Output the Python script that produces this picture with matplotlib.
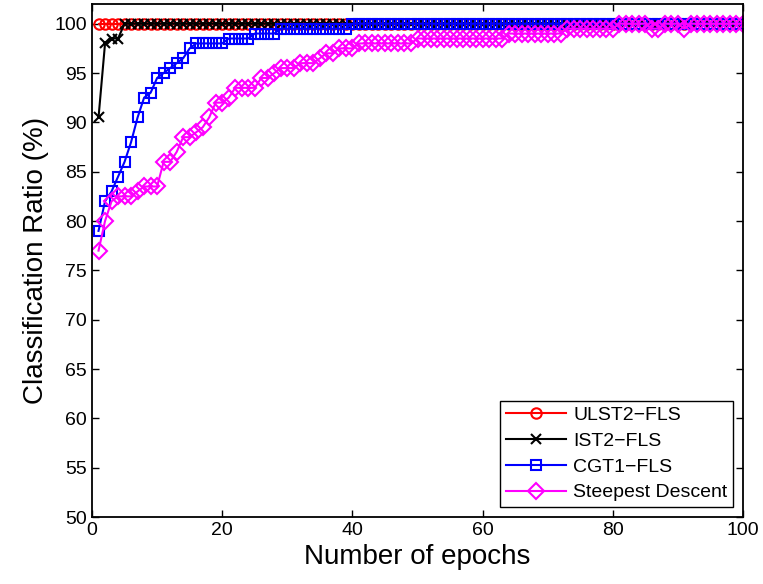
import matplotlib
matplotlib.use("Agg")
import matplotlib.pyplot as plt
import numpy as np

plt.rcParams['font.family'] = ['Liberation Sans', 'DejaVu Sans']

epochs = list(range(1, 101))

# ULST2-FLS: 100 % from the first epoch
ulst2 = [100.0] * 100

# IST2-FLS
ist2 = [90.5, 98.0, 98.5, 98.5] + [100.0] * 96

# CGT1-FLS
cgt1 = [79, 82, 83, 84.5, 86, 88, 90.5, 92.5, 93, 94.5,
        95, 95.5, 96, 96.5, 97.5, 98, 98, 98, 98, 98,
        98.5, 98.5, 98.5, 98.5, 99, 99, 99, 99, 99.5, 99.5,
        99.5, 99.5, 99.5, 99.5, 99.5, 99.5, 99.5, 99.5, 99.5] + [100] * 61

# Steepest Descent
steep = [77, 80, 82, 82.5, 82.5, 82.5, 83, 83.5, 83.5, 83.5,
         86, 86, 87, 88.5, 88.5, 89, 89.5, 90.5, 92, 92,
         92.5, 93.5, 93.5, 93.5, 93.5, 94.5, 94.5, 95, 95.5, 95.5,
         95.5, 96, 96, 96, 96.5, 97, 97, 97.5, 97.5, 97.5,
         98, 98, 98, 98, 98, 98, 98, 98, 98, 98.5,
         98.5, 98.5, 98.5, 98.5, 98.5, 98.5, 98.5, 98.5, 98.5, 98.5,
         98.5, 98.5, 98.5, 99, 99, 99, 99, 99, 99, 99,
         99, 99, 99.5, 99.5, 99.5, 99.5, 99.5, 99.5, 99.5, 99.5,
         100, 100, 100, 100, 100, 99.5, 99.5, 100, 100, 100,
         99.5, 100, 100, 100, 100, 100, 100, 100, 100, 100]

names = ['ULST2\u2212FLS', 'IST2\u2212FLS', 'CGT1\u2212FLS', 'Steepest Descent']

fig = plt.figure(figsize=(7.63, 5.84), dpi=100)
ax = fig.add_axes([0.1206, 0.1147, 0.8532, 0.8785])

ax.plot(epochs, ulst2, '-o', color='r', lw=1.5, ms=7.5, mfc='none', mew=1.5, label=names[0])
ax.plot(epochs, ist2, '-x', color='k', lw=1.5, ms=7, mew=1.5, label=names[1])
ax.plot(epochs, cgt1, '-s', color='b', lw=1.5, ms=7.5, mfc='none', mew=1.5, label=names[2])
ax.plot(epochs, steep, '-D', color='#ff00ff', lw=1.5, ms=8, mfc='none', mew=1.5, label=names[3])

ax.set_xlim(0, 100)
ax.set_ylim(50, 102)
ax.set_xticks(np.arange(0, 101, 20))
ax.set_yticks(np.arange(50, 101, 5))
ax.tick_params(direction='in', top=True, right=True, length=5, width=1, labelsize=14)
for s in ax.spines.values():
    s.set_linewidth(1.3)

ax.set_xlabel('Number of epochs', fontsize=20)
ax.set_ylabel('Classification Ratio (%)', fontsize=20)

leg = ax.legend(loc='lower right', fontsize=14, numpoints=1, fancybox=False,
                edgecolor='k', handlelength=3.1, handletextpad=0.35,
                borderaxespad=0.5, labelspacing=0.42, borderpad=0.3)
leg.get_frame().set_linewidth(1.0)
leg.get_frame().set_alpha(1)

fig.savefig('out.png', dpi=100)
